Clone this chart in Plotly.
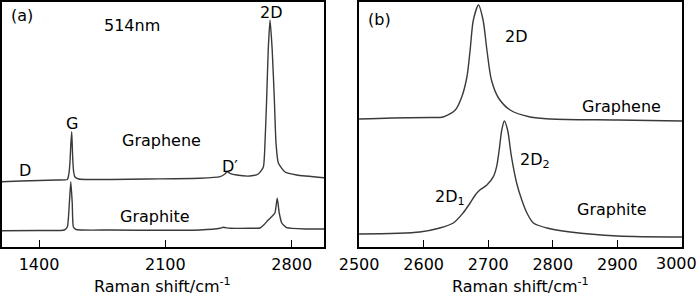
import plotly.graph_objects as go

# ---------------- data (intensity in arbitrary units) ----------------
# Panel (a): 514 nm spectra, wide range
a_graphene_x = [1192, 1300, 1400, 1500, 1557, 1562, 1568, 1572, 1576, 1581, 1584, 1587, 1592, 1599, 1620,
                1800, 2000, 2292, 2403, 2430, 2443, 2458, 2495, 2569, 2615, 2643, 2652, 2661, 2670, 2680,
                2692, 2704, 2713, 2726, 2763, 2828, 2979]
a_graphene_y = [65.3, 66, 66.5, 67, 67.5, 70, 77, 87, 102, 115.3, 102, 87, 75, 70, 68,
                67.5, 68, 68.7, 70.3, 73, 75.3, 73.7, 72, 71, 73, 80, 104, 147, 197, 227,
                197, 147, 104, 84, 75, 72, 69.3]

a_graphite_x = [1192, 1400, 1540, 1557, 1568, 1576, 1584, 1590, 1605, 1800, 2292, 2403, 2420, 2458,
                2569, 2624, 2645, 2670, 2689, 2707, 2720, 2731, 2745, 2772, 2883, 2979]
a_graphite_y = [16.3, 16.5, 17, 20.3, 44, 65.3, 44, 20.3, 17.5, 17, 17, 18.7, 19.7, 18.7,
                18.7, 19, 22, 27, 30.3, 34, 48.7, 34, 24, 19.3, 18, 18]

# Panel (b): 2D band close-up
b_graphene_x = [2500, 2550, 2610, 2630, 2649, 2659, 2667, 2672, 2677, 2685, 2692, 2698, 2705, 2716,
                2734, 2765, 2796, 2900, 3000]
b_graphene_y = [128, 129, 129.5, 130, 137, 150, 170, 197, 227, 242, 227, 197, 167, 149,
                137, 130, 128, 127, 126]

b_graphite_x = [2500, 2594, 2625, 2646, 2661, 2672, 2680, 2687, 2698, 2708, 2713, 2717, 2721, 2725,
                2730, 2736, 2744, 2752, 2760, 2770, 2791, 2827, 2900, 3000]
b_graphite_y = [13, 15, 19, 24, 34, 44, 52, 57, 62, 70.3, 80.3, 97, 117, 126,
                117, 90.3, 64, 47, 34, 24, 19, 15, 11, 10]

a_ticks = [1400, 2100, 2800]
b_ticks = [2500, 2600, 2700, 2800, 2900, 3000]
axis_title = "Raman shift/cm<sup>-1</sup>"

# ---------------- figure ----------------
FONT = "DejaVu Sans"
LINE_A = dict(color="#3a3a3a", width=1.4, shape="spline", smoothing=0.5)
LINE_B = dict(color="#3a3a3a", width=1.4, shape="spline", smoothing=0.8)

fig = go.Figure()
fig.add_trace(go.Scatter(x=a_graphene_x, y=a_graphene_y, mode="lines", line=LINE_A, xaxis="x", yaxis="y"))
fig.add_trace(go.Scatter(x=a_graphite_x, y=a_graphite_y, mode="lines", line=LINE_A, xaxis="x", yaxis="y"))
fig.add_trace(go.Scatter(x=b_graphene_x, y=b_graphene_y, mode="lines", line=LINE_B, xaxis="x2", yaxis="y2"))
fig.add_trace(go.Scatter(x=b_graphite_x, y=b_graphite_y, mode="lines", line=LINE_B, xaxis="x2", yaxis="y2"))

W, H = 700, 296
ydom = [1 - 247 / H, 1 - 2 / H]

common_x = dict(showline=True, linecolor="black", linewidth=1.5, mirror=True,
                ticks="inside", ticklen=7, tickwidth=1.3, tickcolor="black",
                showgrid=False, zeroline=False, automargin=False,
                tickfont=dict(family=FONT, size=16, color="black"), ticklabelstandoff=2)
common_y = dict(showline=True, linecolor="black", linewidth=1.5, mirror=True,
                showticklabels=False, ticks="", showgrid=False, zeroline=False,
                range=[0, 245], automargin=False)

# the last tick label of panel (b) sits at the page edge; it is drawn right-aligned as an annotation
b_ticktext = [str(t) for t in b_ticks[:-1]] + [""]

fig.update_layout(
    width=W, height=H,
    margin=dict(l=0, r=0, t=0, b=0),
    paper_bgcolor="white", plot_bgcolor="white",
    showlegend=False,
    font=dict(family=FONT, size=16, color="black"),
    xaxis=dict(domain=[1.5 / W, 324 / W], range=[1192, 2979], tickvals=a_ticks,
               ticktext=[str(t) for t in a_ticks], anchor="y", **common_x),
    yaxis=dict(domain=ydom, anchor="x", **common_y),
    xaxis2=dict(domain=[359 / W, 682 / W], range=[2499.9, 3000.1], tickvals=b_ticks,
                ticktext=b_ticktext, anchor="y2", **common_x),
    yaxis2=dict(domain=ydom, anchor="x2", **common_y),
)

def label(text, x, y, xref, yref, size=16, xanchor="center"):
    fig.add_annotation(text=text, x=x, y=y, xref=xref, yref=yref, showarrow=False,
                       xanchor=xanchor, yanchor="middle",
                       font=dict(family=FONT, size=size, color="black"))

# panel (a) labels
label("(a)", 1306, 232, "x", "y")
label("514nm", 1915, 222, "x", "y")
label("2D", 2689, 235, "x", "y")
label("G", 1581, 124, "x", "y")
label("Graphene", 2080, 107, "x", "y")
label("D", 1322, 77, "x", "y")
label("D′", 2458, 81, "x", "y")
label("Graphite", 2043, 31, "x", "y")

# panel (b) labels
label("(b)", 2531, 228, "x2", "y2")
label("2D", 2744, 211, "x2", "y2")
label("Graphene", 2907, 141, "x2", "y2")
label("2D<sub>2</sub>", 2772, 87, "x2", "y2")
label("2D<sub>1</sub>", 2641, 50, "x2", "y2")
label("Graphite", 2892, 38, "x2", "y2")

# last tick label of panel (b)
fig.add_annotation(text=str(b_ticks[-1]), x=699 / W, y=1 - 263 / H, xref="paper", yref="paper",
                   showarrow=False, xanchor="right", yanchor="middle",
                   font=dict(family=FONT, size=16, color="black"))

# axis titles
for xr in ["x domain", "x2 domain"]:
    fig.add_annotation(text=axis_title, x=0.5, y=1 - 285 / H, xref=xr, yref="paper",
                       showarrow=False, xanchor="center", yanchor="middle",
                       font=dict(family=FONT, size=16, color="black"))

fig.write_html("out.html", config={"displayModeBar": False},
               post_script="document.body.style.margin='0';document.body.style.overflow='hidden';")
